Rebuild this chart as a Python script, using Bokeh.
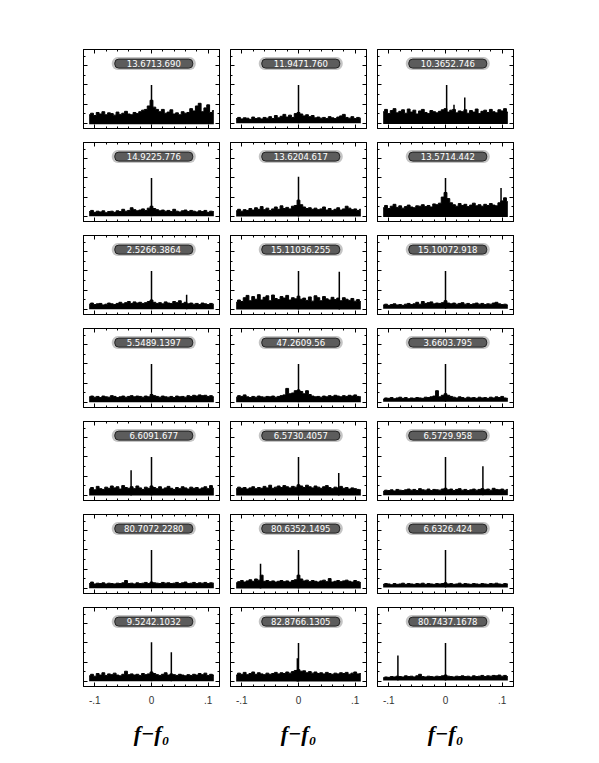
from bokeh.plotting import figure
from bokeh.layouts import gridplot
from bokeh.models import Range1d, FixedTicker, LinearAxis, CustomLabelingPolicy
from bokeh.embed import file_html
from bokeh.resources import INLINE
from bokeh.core.properties import value

# ---------------- data ----------------
freq_start = -0.11
freq_step = 0.005
n_bins = 45
freq = [round(freq_start + freq_step * k, 4) for k in range(n_bins)]

labels = [
    "13.6713.690", "11.9471.760", "10.3652.746",
    "14.9225.776", "13.6204.617", "13.5714.442",
    "2.5266.3864", "15.11036.255", "15.10072.918",
    "5.5489.1397", "47.2609.56", "3.6603.795",
    "6.6091.677", "6.5730.4057", "6.5729.958",
    "80.7072.2280", "80.6352.1495", "6.6326.424",
    "9.5242.1032", "82.8766.1305", "80.7437.1678",
]

floors = [-0.03, 0.0, -0.02, 0.0, -0.01, -0.02, 0.0, -0.01, 0.01,
          0.0, 0.0, 0.01, -0.01, -0.01, 0.0, 0.0, -0.01, 0.02,
          0.0, -0.01, 0.02]

noise_r1c1 = [0.22,0.26,0.20,0.28,0.24,0.30,0.22,0.27,0.25,0.21,
              0.29,0.23,0.26,0.31,0.24,0.22,0.28,0.25,0.30,0.34,
              0.36,0.45,0.60,0.42,0.36,0.30,0.36,0.26,0.29,0.35,
              0.24,0.27,0.22,0.30,0.26,0.28,0.38,0.32,0.45,0.52,
              0.30,0.40,0.48,0.28,0.33]
noise_r1c2 = [0.12,0.15,0.11,0.14,0.13,0.10,0.16,0.12,0.14,0.11,
              0.15,0.13,0.17,0.12,0.20,0.14,0.18,0.23,0.16,0.21,
              0.15,0.25,0.28,0.24,0.19,0.22,0.17,0.20,0.14,0.16,
              0.13,0.15,0.12,0.17,0.14,0.12,0.16,0.19,0.23,0.15,
              0.13,0.17,0.12,0.15,0.13]
noise_r1c3 = [0.30,0.36,0.25,0.33,0.38,0.27,0.31,0.35,0.26,0.37,
              0.29,0.34,0.24,0.32,0.36,0.28,0.25,0.33,0.30,0.27,
              0.31,0.35,0.38,0.29,0.34,0.36,0.27,0.32,0.30,0.35,
              0.26,0.33,0.29,0.37,0.25,0.31,0.34,0.28,0.36,0.30,
              0.27,0.35,0.32,0.38,0.29]
noise_r2c1 = [0.12,0.15,0.10,0.13,0.11,0.14,0.09,0.12,0.13,0.10,
              0.14,0.12,0.18,0.13,0.15,0.22,0.17,0.14,0.16,0.19,
              0.15,0.21,0.26,0.20,0.17,0.14,0.16,0.13,0.15,0.12,
              0.18,0.13,0.11,0.14,0.16,0.12,0.15,0.13,0.11,0.14,
              0.12,0.15,0.10,0.13,0.12]
noise_r2c2 = [0.14,0.18,0.13,0.17,0.15,0.20,0.16,0.22,0.18,0.25,
              0.17,0.21,0.15,0.19,0.24,0.18,0.27,0.20,0.23,0.19,
              0.26,0.28,0.42,0.30,0.24,0.20,0.22,0.18,0.21,0.17,
              0.19,0.24,0.16,0.20,0.15,0.18,0.22,0.16,0.19,0.26,
              0.21,0.17,0.19,0.15,0.18]
noise_r2c3 = [0.22,0.28,0.20,0.26,0.31,0.23,0.27,0.21,0.25,0.29,
              0.24,0.22,0.27,0.26,0.30,0.25,0.28,0.24,0.32,0.30,
              0.34,0.50,0.62,0.46,0.35,0.30,0.26,0.33,0.28,0.31,
              0.25,0.29,0.34,0.27,0.30,0.26,0.31,0.28,0.33,0.29,
              0.27,0.35,0.40,0.48,0.38]
noise_r3c1 = [0.13,0.16,0.12,0.14,0.15,0.11,0.13,0.16,0.14,0.12,
              0.15,0.18,0.14,0.17,0.20,0.15,0.19,0.16,0.18,0.15,
              0.17,0.20,0.24,0.18,0.15,0.17,0.14,0.19,0.16,0.15,
              0.20,0.17,0.22,0.15,0.18,0.14,0.16,0.13,0.15,0.12,
              0.16,0.14,0.12,0.15,0.13]
noise_r3c2 = [0.18,0.24,0.20,0.30,0.36,0.22,0.33,0.26,0.38,0.24,
              0.31,0.35,0.22,0.37,0.28,0.25,0.33,0.29,0.36,0.24,
              0.30,0.27,0.34,0.26,0.29,0.23,0.32,0.21,0.35,0.30,
              0.22,0.33,0.27,0.24,0.31,0.25,0.29,0.22,0.30,0.26,
              0.23,0.28,0.21,0.25,0.20]
noise_r3c3 = [0.11,0.13,0.10,0.12,0.14,0.11,0.12,0.10,0.13,0.15,
              0.12,0.14,0.18,0.13,0.20,0.15,0.17,0.19,0.14,0.16,
              0.15,0.17,0.22,0.16,0.14,0.16,0.13,0.15,0.17,0.13,
              0.15,0.12,0.14,0.16,0.13,0.15,0.12,0.14,0.13,0.16,
              0.18,0.14,0.12,0.13,0.11]
noise_r4c1 = [0.14,0.16,0.13,0.15,0.12,0.16,0.14,0.13,0.17,0.15,
              0.12,0.14,0.16,0.13,0.15,0.17,0.14,0.16,0.15,0.13,
              0.16,0.14,0.20,0.17,0.15,0.13,0.16,0.14,0.13,0.15,
              0.12,0.16,0.14,0.15,0.13,0.17,0.15,0.18,0.16,0.19,
              0.17,0.18,0.15,0.17,0.14]
noise_r4c2 = [0.13,0.17,0.15,0.19,0.14,0.12,0.15,0.13,0.16,0.14,
              0.13,0.15,0.14,0.16,0.13,0.15,0.17,0.19,0.36,0.22,
              0.24,0.30,0.32,0.28,0.22,0.30,0.20,0.16,0.14,0.15,
              0.13,0.16,0.14,0.17,0.15,0.18,0.16,0.14,0.17,0.15,
              0.18,0.16,0.19,0.15,0.14]
noise_r4c3 = [0.08,0.11,0.10,0.12,0.09,0.11,0.13,0.10,0.12,0.09,
              0.11,0.10,0.12,0.11,0.10,0.13,0.12,0.14,0.16,0.30,
              0.14,0.18,0.22,0.18,0.15,0.13,0.11,0.14,0.12,0.10,
              0.13,0.11,0.12,0.10,0.13,0.11,0.12,0.10,0.13,0.11,
              0.14,0.12,0.15,0.11,0.10]
noise_r5c1 = [0.16,0.20,0.14,0.23,0.17,0.15,0.21,0.18,0.24,0.19,
              0.22,0.16,0.25,0.20,0.18,0.22,0.17,0.24,0.19,0.15,
              0.21,0.18,0.24,0.20,0.17,0.22,0.16,0.19,0.23,0.18,
              0.15,0.20,0.17,0.22,0.19,0.16,0.21,0.18,0.20,0.16,
              0.19,0.22,0.17,0.25,0.18]
noise_r5c2 = [0.17,0.21,0.18,0.20,0.16,0.19,0.22,0.17,0.20,0.18,
              0.23,0.19,0.26,0.18,0.21,0.24,0.20,0.25,0.22,0.19,
              0.23,0.21,0.27,0.24,0.20,0.26,0.22,0.19,0.24,0.21,
              0.18,0.22,0.25,0.20,0.17,0.21,0.19,0.23,0.18,0.20,
              0.16,0.19,0.17,0.15,0.14]
noise_r5c3 = [0.10,0.13,0.12,0.14,0.11,0.15,0.13,0.12,0.14,0.16,
              0.13,0.15,0.12,0.17,0.14,0.13,0.16,0.12,0.15,0.14,
              0.13,0.16,0.18,0.14,0.16,0.12,0.15,0.17,0.13,0.15,
              0.12,0.14,0.16,0.13,0.15,0.17,0.14,0.16,0.13,0.18,
              0.15,0.14,0.16,0.13,0.15]
noise_r6c1 = [0.12,0.16,0.11,0.13,0.12,0.14,0.11,0.13,0.12,0.11,
              0.13,0.12,0.14,0.20,0.12,0.13,0.11,0.14,0.12,0.13,
              0.15,0.12,0.16,0.14,0.13,0.12,0.15,0.13,0.14,0.12,
              0.13,0.15,0.12,0.14,0.16,0.12,0.13,0.15,0.12,0.14,
              0.13,0.15,0.12,0.14,0.13]
noise_r6c2 = [0.14,0.17,0.20,0.16,0.19,0.22,0.18,0.24,0.21,0.34,
              0.18,0.20,0.17,0.19,0.16,0.18,0.20,0.17,0.19,0.16,
              0.20,0.22,0.34,0.24,0.19,0.21,0.17,0.20,0.18,0.16,
              0.19,0.21,0.17,0.25,0.16,0.18,0.20,0.17,0.19,0.21,
              0.18,0.16,0.20,0.17,0.15]
noise_r6c3 = [0.10,0.12,0.11,0.09,0.12,0.10,0.11,0.13,0.10,0.12,
              0.11,0.10,0.12,0.11,0.13,0.10,0.12,0.11,0.10,0.12,
              0.11,0.12,0.14,0.11,0.12,0.10,0.11,0.13,0.10,0.12,
              0.11,0.10,0.12,0.11,0.10,0.12,0.11,0.10,0.12,0.11,
              0.13,0.11,0.10,0.12,0.11]
noise_r7c1 = [0.14,0.18,0.13,0.20,0.16,0.22,0.15,0.19,0.17,0.21,
              0.16,0.14,0.18,0.26,0.17,0.19,0.16,0.18,0.15,0.20,
              0.17,0.19,0.24,0.20,0.17,0.15,0.18,0.22,0.16,0.19,
              0.17,0.15,0.18,0.16,0.14,0.17,0.15,0.18,0.16,0.20,
              0.17,0.21,0.15,0.18,0.16]
noise_r7c2 = [0.16,0.21,0.18,0.23,0.17,0.20,0.24,0.18,0.22,0.19,
              0.17,0.21,0.18,0.20,0.23,0.19,0.22,0.20,0.24,0.21,
              0.25,0.28,0.30,0.26,0.27,0.22,0.25,0.21,0.24,0.20,
              0.22,0.19,0.23,0.20,0.18,0.21,0.19,0.22,0.20,0.23,
              0.18,0.21,0.24,0.19,0.20]
noise_r7c3 = [0.09,0.11,0.10,0.12,0.11,0.13,0.12,0.11,0.14,0.12,
              0.13,0.11,0.14,0.18,0.12,0.11,0.13,0.12,0.11,0.13,
              0.12,0.14,0.16,0.13,0.12,0.11,0.13,0.12,0.14,0.12,
              0.13,0.11,0.14,0.12,0.13,0.15,0.12,0.14,0.13,0.15,
              0.14,0.16,0.13,0.15,0.12]

noise = [noise_r1c1, noise_r1c2, noise_r1c3,
         noise_r2c1, noise_r2c2, noise_r2c3,
         noise_r3c1, noise_r3c2, noise_r3c3,
         noise_r4c1, noise_r4c2, noise_r4c3,
         noise_r5c1, noise_r5c2, noise_r5c3,
         noise_r6c1, noise_r6c2, noise_r6c3,
         noise_r7c1, noise_r7c2, noise_r7c3]

# spikes: (frequency offset, height) per panel
spike_x = [[0.0], [0.0], [0.002, 0.015, 0.034],
           [0.0], [0.0], [0.0, 0.098],
           [0.0, 0.062], [0.0, 0.072], [0.0],
           [0.0], [0.0], [0.0],
           [-0.036, 0.0], [0.0, 0.071], [0.0, 0.066],
           [0.0], [-0.067, 0.0], [0.0],
           [0.0, 0.035], [0.0, -0.002], [-0.084, 0.0]]
spike_h = [[1.0], [1.0], [1.0, 0.48, 0.67],
           [1.0], [1.03], [1.0, 0.74],
           [1.0, 0.38], [1.0, 0.98], [1.0],
           [1.0], [1.0], [1.0],
           [0.65, 1.0], [1.0, 0.58], [1.0, 0.76],
           [1.0], [0.64, 1.0], [1.0],
           [1.02, 0.76], [1.0, 0.6], [0.67, 1.0]]

x_tick_values = [-0.1, 0.0, 0.1]
x_tick_labels = ["-.1", "0", ".1"]
x_minor = [-0.12, -0.1, -0.08, -0.06, -0.04, -0.02, 0.0, 0.02, 0.04, 0.06, 0.08, 0.1, 0.12]
y_tick_values = [0.0, 0.5, 1.0, 1.5]
y_minor = [0.25, 0.75, 1.25, 1.75]
x_axis_title = "f\u2212f\u2080"

# ---------------- plotting ----------------
overrides = {}
for v, s in zip(x_tick_values, x_tick_labels):
    overrides[v] = s
    overrides[str(v) if v != 0 else "0"] = s

no_labels = CustomLabelingPolicy(code="""
    const ones = [...indices];
    for (const i of ones) { indices.unset(i); }
    return indices;
""")


def style_axis(ax, show=False):
    ax.major_tick_in = 4
    ax.major_tick_out = 0
    ax.minor_tick_in = 2
    ax.minor_tick_out = 0
    ax.axis_line_color = "black"
    ax.major_tick_line_color = "black"
    ax.minor_tick_line_color = "black"
    if not show:
        ax.major_label_policy = no_labels
        ax.major_label_text_font_size = "1px"
        ax.major_label_standoff = 0


figs = []
for i in range(21):
    r, c = divmod(i, 3)
    p = figure(frame_width=136, frame_height=79,
               x_range=Range1d(-0.12, 0.12), y_range=Range1d(-0.14, 1.93),
               output_backend="svg", toolbar_location=None,
               min_border_left=83 if c == 0 else 5, min_border_right=6,
               min_border_top=49 if r == 0 else 7,
               min_border_bottom=70 if r == 6 else 7)
    p.xgrid.visible = False
    p.ygrid.visible = False
    p.outline_line_color = "black"
    p.outline_line_width = 1
    p.background_fill_color = "white"
    p.border_fill_color = "white"

    xt = FixedTicker(ticks=x_tick_values, minor_ticks=x_minor)
    yt = FixedTicker(ticks=y_tick_values, minor_ticks=y_minor)
    p.xaxis.ticker = xt
    p.yaxis.ticker = yt
    top_ax = LinearAxis(ticker=xt)
    right_ax = LinearAxis(ticker=yt)
    p.add_layout(top_ax, "above")
    p.add_layout(right_ax, "right")
    for ax in [top_ax, right_ax, p.yaxis[0]]:
        style_axis(ax)
    bottom = p.below[0]
    if r == 6:
        style_axis(bottom, show=True)
        bottom.major_label_overrides = overrides
        bottom.major_label_text_font = "Liberation Sans"
        bottom.major_label_text_font_size = "10px"
        bottom.major_label_text_color = "#333333"
        bottom.major_label_standoff = 9
        bottom.axis_label = x_axis_title
        bottom.axis_label_text_font = "Liberation Serif"
        bottom.axis_label_text_font_style = "bold italic"
        bottom.axis_label_text_font_size = "22px"
        bottom.axis_label_text_color = "black"
        bottom.axis_label_standoff = 14
    else:
        style_axis(bottom)

    top = noise[i]
    fl = floors[i]
    p.varea_step(x=freq, y1=[fl] * len(freq), y2=top, step_mode="center", fill_color="black")
    p.step(x=freq, y=top, mode="center", line_color="black", line_width=1)
    p.segment(x0=spike_x[i], y0=[fl] * len(spike_x[i]), x1=spike_x[i], y1=spike_h[i],
              line_color="black", line_width=1.5)

    # label badge
    p.rect(x=[0.004], y=[1.56], width=84, height=13, width_units="screen", height_units="screen",
           fill_color="#c4c4c4", line_color=None, border_radius=6)
    p.rect(x=[0.004], y=[1.56], width=78, height=9, width_units="screen", height_units="screen",
           fill_color="#5c5c5c", line_color="#222222", line_width=1, border_radius=4)
    p.text(x=[0.004], y=[1.56], text=[labels[i]], text_font=value("DejaVu Sans"),
           text_font_size="8.5px", text_color="white", text_align="center",
           text_baseline="middle")
    figs.append(p)

grid = gridplot(figs, ncols=3, toolbar_location=None)
open("out.html", "w").write(file_html(grid, INLINE))
